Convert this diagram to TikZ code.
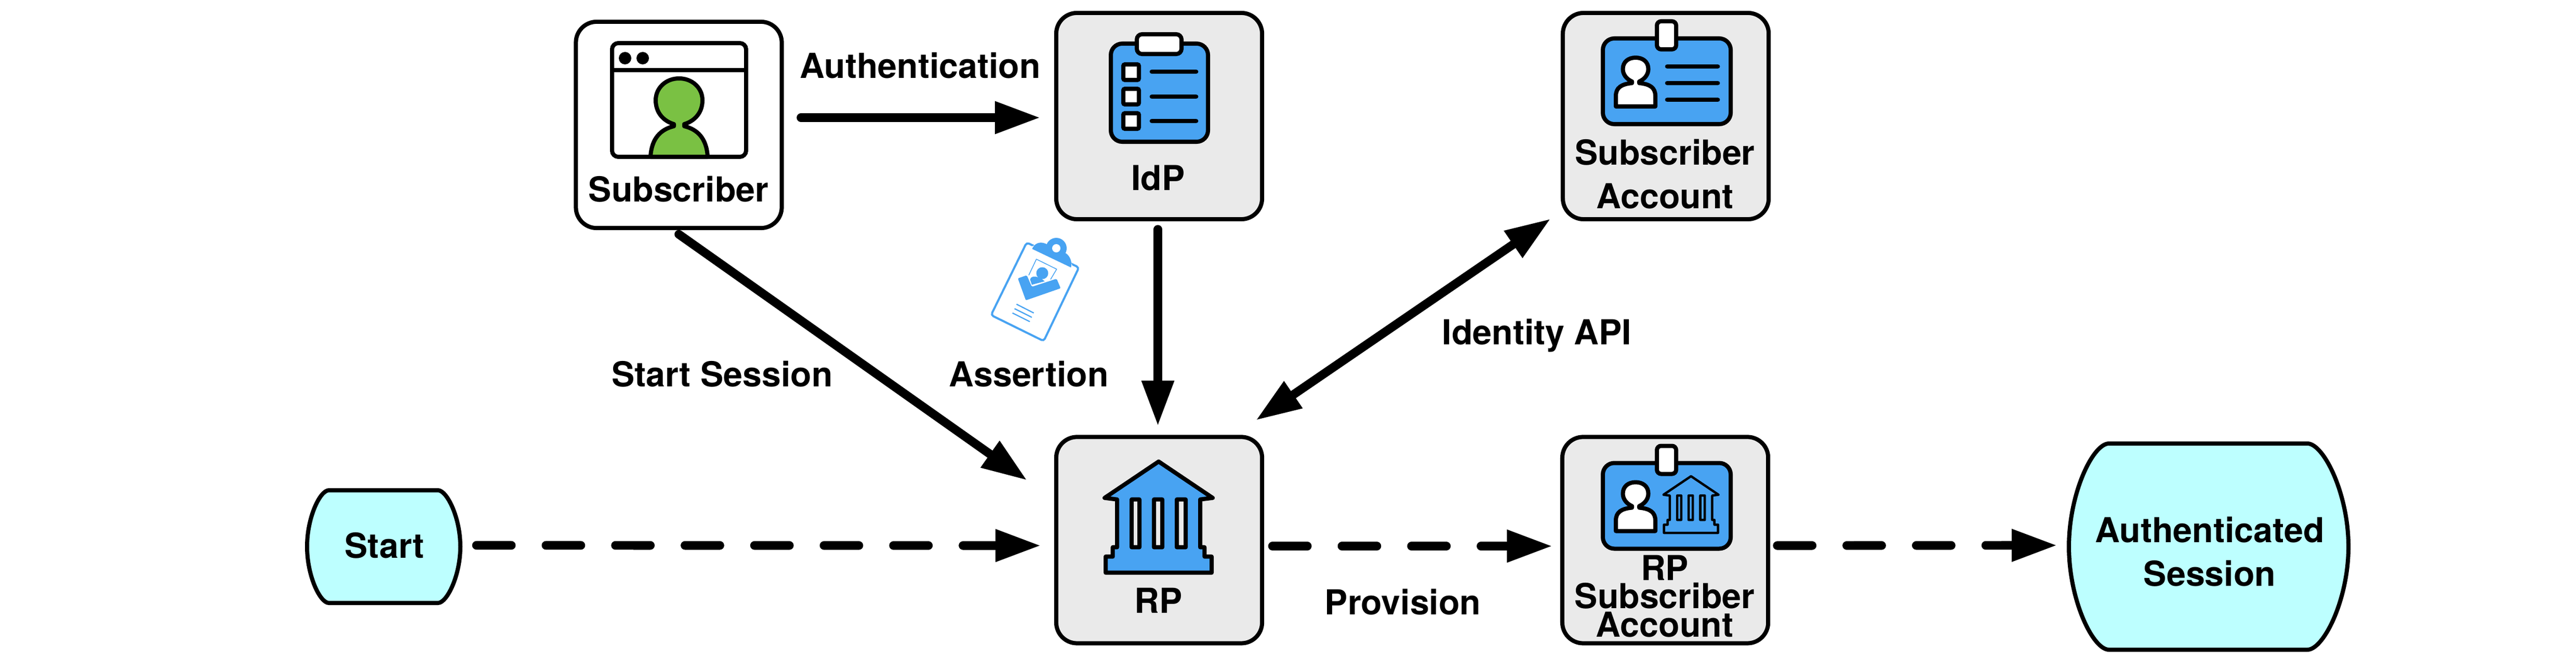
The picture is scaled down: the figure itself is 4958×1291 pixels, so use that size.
\documentclass[tikz,border=0pt]{standalone}
\usepackage{fontspec}
\setmainfont{TeX Gyre Heros}
\usetikzlibrary{arrows.meta, positioning, calc}

\definecolor{boxgray}{HTML}{EAEAEA}
\definecolor{iconblue}{HTML}{48A3F2}
\definecolor{persongreen}{HTML}{7AC143}
\definecolor{sessioncyan}{HTML}{BDFFFF}

\tikzset{
    bigtip/.tip={Triangle[length=0.85cm, width=0.64cm, line width=0pt]},
    personicon/.pic={
        \path[draw, fill=white, line join=round]
            (-7,0) .. controls (-18,-5) and (-24.5,-14) .. (-24.5,-24)
            .. controls (-24.5,-38) and (-14,-46) .. (0,-46)
            .. controls (14,-46) and (24.5,-38) .. (24.5,-24)
            .. controls (24.5,-14) and (18,-5) .. (7,0)
            -- (7,3) .. controls (28,5) and (38,12) .. (38,28)
            -- (38,48) -- (-38,48) -- (-38,28)
            .. controls (-38,12) and (-28,5) .. (-7,3) -- cycle;
    },
    bankicon/.pic={
        \path[draw, fill=iconblue, line join=round, even odd rule]
            (0,-108) -- (104,-38) -- (80,-35) -- (80,57) -- (88.3,57) -- (88.3,75)
            -- (102,75) -- (102,106) -- (-102,106) -- (-102,75) -- (-88.3,75)
            -- (-88.3,57) -- (-80,57) -- (-80,-35) -- (-104,-38) -- cycle
            (-52,-35) rectangle (-37,57)
            (-9,-35) rectangle (7,57)
            (35,-35) rectangle (52,57);
    },
    badgeicon/.pic={
        \path[draw, fill=iconblue, rounded corners=0.22cm] (-123,-82.5) rectangle (123,82.5);
        \path[draw, fill=white, rounded corners=0.08cm] (-19,-115.5) rectangle (18,-61.5);
        \pic[line width=0.08cm] at (-60,0.5) {personicon};
    }
}

\begin{document}
\begin{tikzpicture}[
    x=0.01cm, y=-0.01cm,
    box/.style={rectangle, draw, line width=0.08cm, fill=boxgray, rounded corners=0.4cm,
        minimum width=3.96cm, minimum height=3.97cm, inner sep=0pt},
    session/.style={draw, line width=0.08cm, fill=sessioncyan},
    sessionnode/.style={rectangle, line width=0.08cm, inner sep=0pt},
    lbl/.style={anchor=base, inner sep=0pt, align=center,
        font=\fontsize{18.85}{22.5}\selectfont\bfseries},
    listline/.style={line width=0.087cm, line cap=round},
    arrow/.style={-bigtip, line width=0.167cm, line cap=round},
    dasharrow/.style={arrow, dash pattern=on 0.67cm off 0.667cm}
]
    \path[use as bounding box, fill=white] (0,0) rectangle (4958,1291);

    \node[box, fill=white] (subscriber) at (1306.5,240.5) {};
    \node[box] (idp) at (2231,223.5) {};
    \node[box, right=5.705cm of idp] (subacct) {};
    \node[box, below=4.11cm of idp] (rp) {};
    \node[box, right=5.695cm of rp] (rpacct) {};

    \draw[session] (633,944) -- (843,944) .. controls (860,944) and (886,996) .. (886,1052.5)
        .. controls (886,1109) and (860,1161) .. (843,1161) -- (633,1161)
        .. controls (616,1161) and (591,1109) .. (591,1052.5)
        .. controls (591,996) and (616,944) .. (633,944) -- cycle;
    \node[sessionnode, minimum width=2.95cm, minimum height=2.17cm] (start) at (738.5,1052.5) {};

    \draw[session] (4059,854) -- (4441,854) .. controls (4472,854) and (4520,950) .. (4520,1052.5)
        .. controls (4520,1155) and (4472,1251) .. (4441,1251) -- (4059,1251)
        .. controls (4028,1251) and (3982,1155) .. (3982,1052.5)
        .. controls (3982,950) and (4028,854) .. (4059,854) -- cycle;
    \node[sessionnode, minimum width=5.38cm, minimum height=3.97cm] (authsession) at (4251,1052.5) {};

    \draw[line width=0.08cm, rounded corners=0.12cm] (1178,83) rectangle (1436,302);
    \draw[line width=0.08cm] (1178,135) -- (1436,135);
    \fill (1203,112) circle (12);
    \fill (1237,112) circle (12);
    \draw[line width=0.08cm, fill=persongreen, line join=round]
        (1297,239) .. controls (1277,233) and (1262,217) .. (1262,193)
        .. controls (1262,169) and (1282,151) .. (1307,151)
        .. controls (1332,151) and (1352,169) .. (1352,193)
        .. controls (1352,217) and (1337,233) .. (1317,239)
        -- (1317,243) .. controls (1342,249) and (1360,266) .. (1362,302)
        -- (1252,302) .. controls (1254,266) and (1272,249) .. (1297,243) -- cycle;

    \draw[line width=0.08cm, fill=iconblue, rounded corners=0.22cm] (2138,84) rectangle (2325,273);
    \draw[line width=0.08cm, fill=white, rounded corners=0.1cm] (2188,66) rectangle (2274,104);
    \draw[line width=0.08cm, fill=white, rounded corners=0.03cm] (2162,124) rectangle (2192,154);
    \draw[line width=0.08cm, fill=white, rounded corners=0.03cm] (2162,171) rectangle (2192,201);
    \draw[line width=0.08cm, fill=white, rounded corners=0.03cm] (2162,218) rectangle (2192,248);
    \draw[listline] (2217,138) -- (2302,138);
    \draw[listline] (2217,186) -- (2302,186);
    \draw[listline] (2217,233) -- (2302,233);

    \pic[line width=0.08cm] at (3208,156.5) {badgeicon};
    \draw[listline] (3209,128) -- (3306,128);
    \draw[listline] (3209,160) -- (3306,160);
    \draw[listline] (3209,192) -- (3306,192);

    \pic[line width=0.08cm] at (2230,996.7) {bankicon};

    \pic[line width=0.08cm] at (3208,974) {badgeicon};
    \pic[line width=0.045cm, scale=0.51] at (3254.6,972) {bankicon};

    \draw[iconblue, line width=0.04cm, rounded corners=0.05cm]
        (1976,467) -- (2076.6,515) -- (2008.8,656.7) -- (1907.4,606.7) -- cycle;
    \fill[white] (1983,476) -- (2012,462) -- (2052,478) -- (2066,518) -- cycle;
    \fill[iconblue] (1986.6,479.3) .. controls (1990,470) and (2000,464) .. (2012,469)
        -- (2052,488) .. controls (2060,494) and (2064,505) .. (2061.2,515) -- cycle;
    \fill[iconblue] (2033,478) circle (20);
    \fill[white] (2033,478) circle (8);
    \draw[iconblue, line width=0.015cm, line join=round]
        (1980,530) -- (1994.7,499) -- (2033.7,518.3) -- (2022,538);
    \fill[iconblue] (2006,526) circle (11.5);
    \fill[iconblue] (1982.5,538) .. controls (1984,532) and (1992,531) .. (1998,534)
        -- (2005,537) -- (2010.7,541.7) -- (1985.9,548.3) -- cycle;
    \fill[iconblue, rounded corners=0.02cm] (1959,536) -- (1976.3,530) -- (1985.9,552.3)
        -- (2033.7,536.7) -- (2041.4,555) -- (1974.4,578.3) -- cycle;
    \draw[iconblue, line width=0.023cm] (1956.4,585.7) -- (1989.7,602.7);
    \draw[iconblue, line width=0.023cm] (1952.6,594.3) -- (1985.9,611);
    \draw[iconblue, line width=0.023cm] (1948.7,602.7) -- (1982,619.3);

    \node[lbl] (subscribertext) at (1306,388) {Subscriber};
    \node[lbl] (idptext) at (2229,366) {IdP};
    \node[lbl] (subaccttext) at (3204.5,401) {Subscriber\\[1.3pt]Account};
    \node[lbl] (rptext) at (2230,1180) {RP};
    \node[lbl] (rpaccttext) at (3204,1226) {RP\\[-7.1pt]Subscriber\\[-7.1pt]Account};
    \node[lbl] (starttext) at (740,1074) {Start};
    \node[lbl] (authsessiontext) at (4253,1128) {Authenticated\\[1.3pt]Session};

    \node[lbl] (authlabel) at (1771,150) {Authentication};
    \node[lbl] (startsessionlabel) at (1390,744) {Start Session};
    \node[lbl] (assertionlabel) at (1980,744) {Assertion};
    \node[lbl] (identitylabel) at (2958,663) {Identity API};
    \node[lbl] (provisionlabel) at (2700,1183) {Provision};

    \draw[arrow] ($(subscriber.east)+(33,-14)$) -- ($(idp.west)+(-29,3)$);
    \draw[arrow] ($(subscriber.south)+(0,8)$) -- ($(rp.west)+(-54,-116.5)$);
    \draw[arrow] ($(idp.south)+(-2.5,15.5)$) -- ($(rp.north)+(-2.5,-19.5)$);
    \draw[arrow, bigtip-bigtip] ($(rp.north east)+(-14,-29.5)$) -- ($(subacct.south west)+(-21.5,-3.5)$);
    \draw[dasharrow] ($(start.east)+(27,-2.5)$) -- ($(rp.west)+(-28,10.5)$);
    \draw[dasharrow] ($(rp.east)+(16,11.5)$) -- ($(rpacct.west)+(-17.5,11.5)$);
    \draw[dasharrow] ($(rpacct.east)+(13.5,10.5)$) -- ($(authsession.west)+(-21,-2.5)$);
\end{tikzpicture}
\end{document}
